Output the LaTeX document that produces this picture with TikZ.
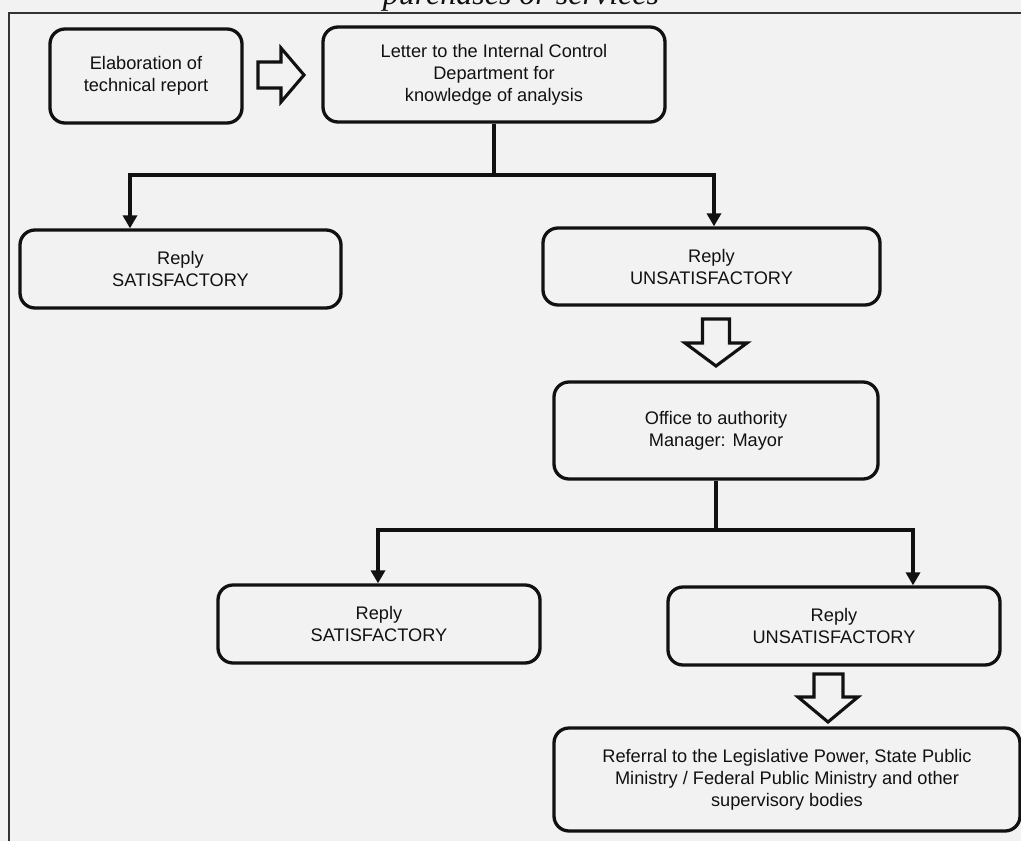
\documentclass[tikz,border=0pt]{standalone}
\usepackage{fontspec}
\setmainfont{Liberation Sans}
\newfontfamily\titlefont{Liberation Serif}
\usetikzlibrary{arrows.meta}
\definecolor{bg}{HTML}{F2F2F2}
\definecolor{ink}{HTML}{111111}
\tikzset{
  box/.style={draw=ink, line width=3.3pt, rounded corners=15pt, fill=bg,
    align=center, inner sep=0pt, text=ink,
    font=\fontsize{18.2}{22}\selectfont},
  conn/.style={draw=ink, line width=3.3pt, line join=miter},
  arr/.style={conn, -{Triangle[width=14pt,length=13pt]}},
  hollow/.style={draw=ink, line width=3.1pt, fill=bg, line join=miter},
}
\begin{document}
\begin{tikzpicture}[x=1pt,y=-1pt]
\useasboundingbox (0,0) rectangle (1021,841);
\fill[bg] (0,0) rectangle (1021,841);
% title (cut off at top, as in the reference)
\node[anchor=base, font=\titlefont\itshape\fontsize{32}{38}\selectfont, text=ink, inner sep=0pt] (title) at (521,4) {purchases or services};
% frame
\draw[black!80, line width=2pt] (9,841) -- (9,12.5) -- (1021,12.5);
% boxes
\node[box, minimum width=192pt, minimum height=94pt] (A) at (146,76) {Elaboration of\\technical report};
\node[box, minimum width=342pt, minimum height=95pt] (B) at (494,74.5) {Letter to the Internal Control\\Department for\\knowledge of analysis};
\node[box, minimum width=321pt, minimum height=78pt] (C) at (180.5,269) {Reply\\SATISFACTORY};
\node[box, minimum width=337pt, minimum height=77pt] (D) at (711.5,266.5) {Reply\\UNSATISFACTORY};
\node[box, minimum width=324pt, minimum height=97pt] (E) at (716,430.5) {Office to authority\\Manager: Mayor};
\node[box, minimum width=322pt, minimum height=78pt] (F) at (379,624) {Reply\\SATISFACTORY};
\node[box, minimum width=332pt, minimum height=78pt] (G) at (834,626) {Reply\\UNSATISFACTORY};
\node[box, minimum width=466pt, minimum height=103pt] (H) at (787,779.5) {Referral to the Legislative Power, State Public\\Ministry / Federal Public Ministry and other\\supervisory bodies};
% hollow arrows
\draw[hollow] (258,62) -- (281,62) -- (281,48) -- (304,75) -- (281,102) -- (281,88) -- (258,88) -- cycle;
\draw[hollow] (702.5,319) -- (729.5,319) -- (729.5,343) -- (747,343) -- (716,366) -- (685,343) -- (702.5,343) -- cycle;
\draw[hollow] (814,674) -- (843,674) -- (843,697) -- (858,697) -- (828,722) -- (798,697) -- (814,697) -- cycle;
% tree connectors 1
\coordinate (cl) at (130,175);
\coordinate (cr) at (714,175);
\draw[conn] (B.south) -- (B.south |- cl);
\draw[arr] (B.south |- cl) -- (cl) -- (cl |- C.north);
\draw[arr] (B.south |- cl) -- (cr) -- (cr |- D.north);
% tree connectors 2
\coordinate (fl) at (378,530);
\coordinate (gr) at (913,530);
\draw[conn] (E.south) -- (E.south |- fl);
\draw[arr] (E.south |- fl) -- (fl) -- (fl |- F.north);
\draw[arr] (E.south |- fl) -- (gr) -- (gr |- G.north);
\end{tikzpicture}
\end{document}
